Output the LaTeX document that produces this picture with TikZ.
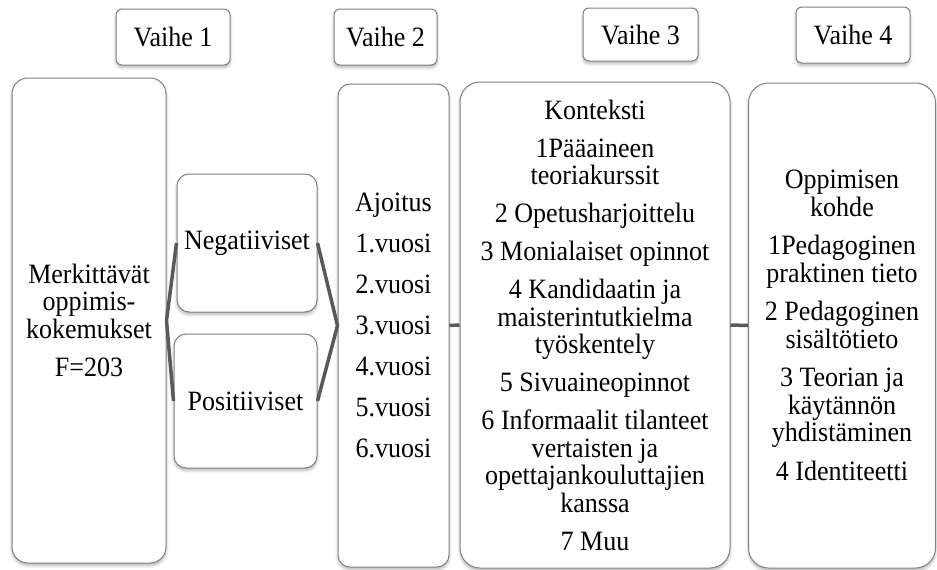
\documentclass[tikz,border=0pt]{standalone}
\usepackage{fontspec}
\setmainfont[FakeStretch=0.93]{Liberation Serif}
\usetikzlibrary{shadows.blur}
\begin{document}
\begin{tikzpicture}[x=1pt,y=-1pt,
  every node/.style={font=\fontsize{28}{27.5}\selectfont, text=black},
  softshadow/.style={blur shadow={shadow xshift=0pt, shadow yshift=-2.5pt,
      shadow blur radius=3pt, shadow opacity=30}},
  stagebox/.style={draw=black!50, line width=1pt, rounded corners=6pt,
      fill=white, softshadow, inner sep=0pt, align=center},
  panel/.style={draw=black!50, line width=1pt, rounded corners=#1,
      fill=white, softshadow, inner sep=0pt, align=center},
  panel/.default=16pt,
  link/.style={draw=black!65, line width=3.5pt}
]
\path[use as bounding box] (0,0) rectangle (937,570);

% stage headers
\node[stagebox, minimum width=114pt, minimum height=56pt] (v1) at (173,37) {Vaihe 1};
\node[stagebox, minimum width=103pt, minimum height=56pt] (v2) at (385.5,37) {Vaihe 2};
\node[stagebox, minimum width=115pt, minimum height=53pt] (v3) at (640.5,34.5) {Vaihe 3};
\node[stagebox, minimum width=114pt, minimum height=56pt] (v4) at (853,35) {Vaihe 4};

% stage 1
\node[panel=16pt, minimum width=154pt, minimum height=485pt] (exp) at (89,320.5)
  {Merkittävät\\oppimis-\\kokemukset\\[11pt]F=203};
\node[panel=12pt, minimum width=140pt, minimum height=138pt] (neg) at (247,243)
  {Negatiiviset};
\node[panel=12pt, minimum width=143pt, minimum height=134pt] (pos) at (245.5,401)
  {Positiiviset};

% stage 2
\node[panel=12pt, minimum width=111pt, minimum height=483pt] (time) at (393.5,325.5)
  {Ajoitus\\[13.5pt]1.vuosi\\[13.5pt]2.vuosi\\[13.5pt]3.vuosi\\[13.5pt]4.vuosi\\[13.5pt]5.vuosi\\[13.5pt]6.vuosi};

% stage 3
\node[panel=20pt, minimum width=270pt, minimum height=486pt] (ctx) at (595,325)
  {Konteksti\\[10.5pt]
   1Pääaineen\\teoriakurssit\\[10.5pt]
   2 Opetusharjoittelu\\[10.5pt]
   3 Monialaiset opinnot\\[10.5pt]
   4 Kandidaatin ja\\maisterintutkielma\\työskentely\\[10.5pt]
   5 Sivuaineopinnot\\[10.5pt]
   6 Informaalit tilanteet\\vertaisten ja\\opettajankouluttajien\\kanssa\\[10.5pt]
   7 Muu};

% stage 4
\node[panel=20pt, minimum width=187pt, minimum height=485pt] (obj) at (842,325.5)
  {Oppimisen\\kohde\\[11pt]
   1Pedagoginen\\praktinen tieto\\[11pt]
   2 Pedagoginen\\sisältötieto\\[11pt]
   3 Teorian ja\\käytännön\\yhdistäminen\\[11pt]
   4 Identiteetti};

% connectors
\draw[link] (neg.west) -- (exp.east) -- (pos.west);
\draw[link] (neg.east) -- (time.west) -- (pos.east);
\draw[link] (time.east) -- (ctx.west);
\draw[link] (ctx.east) -- (obj.west);
\end{tikzpicture}
\end{document}
